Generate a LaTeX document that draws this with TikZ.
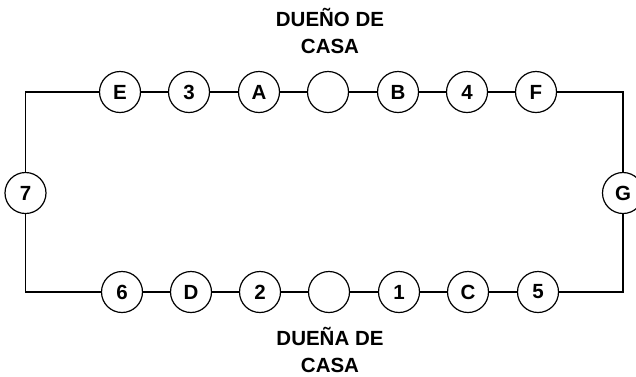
\documentclass[tikz,border=0pt]{standalone}
\usepackage{fontspec}
\setmainfont{Liberation Sans}
\begin{document}
\begin{tikzpicture}[x=1pt,y=-1pt,
  ball/.style={circle,draw,line width=1.2pt,minimum size=41pt,inner sep=0pt,
    font=\fontsize{20.5}{24}\selectfont\bfseries},
  wire/.style={line width=1.2pt},
  lbl/.style={align=center,inner sep=0pt,font=\fontsize{20.5}{26.5}\selectfont\bfseries}]
\clip (0,0) rectangle (636,376);
\fill[white] (0,0) rectangle (636,376);
% top row
\node[ball] (E) at (120,92) {E};
\node[ball] (n3) at (189,92) {3};
\node[ball] (A) at (259,92) {A};
\node[ball] (top) at (328,92) {};
\node[ball] (B) at (398,92) {B};
\node[ball] (n4) at (467,92) {4};
\node[ball] (F) at (536,92) {F};
% bottom row
\node[ball] (n6) at (122,292) {6};
\node[ball] (D) at (191,292) {D};
\node[ball] (n2) at (260,292) {2};
\node[ball] (bot) at (329,292) {};
\node[ball] (n1) at (399,292) {1};
\node[ball] (C) at (468,292) {C};
\node[ball] (n5) at (538,292) {5};
% sides
\node[ball] (n7) at (25.5,193) {7};
\node[ball] (G) at (623,193) {G};
% connectors
\draw[wire] (E) -- (n3) (n3) -- (A) (A) -- (top) (top) -- (B) (B) -- (n4) (n4) -- (F);
\draw[wire] (n6) -- (D) (D) -- (n2) (n2) -- (bot) (bot) -- (n1) (n1) -- (C) (C) -- (n5);
\draw[wire] (E.west) -| (n7.north);
\draw[wire] (n6.west) -| (n7.south);
\draw[wire] (F.east) -| (G.north);
\draw[wire] (n5.east) -| (G.south);
% labels
\node[lbl] (owner) at (330,31) {DUEÑO DE\\CASA};
\node[lbl] (lady) at (330,350) {DUEÑA DE\\CASA};
\end{tikzpicture}
\end{document}
